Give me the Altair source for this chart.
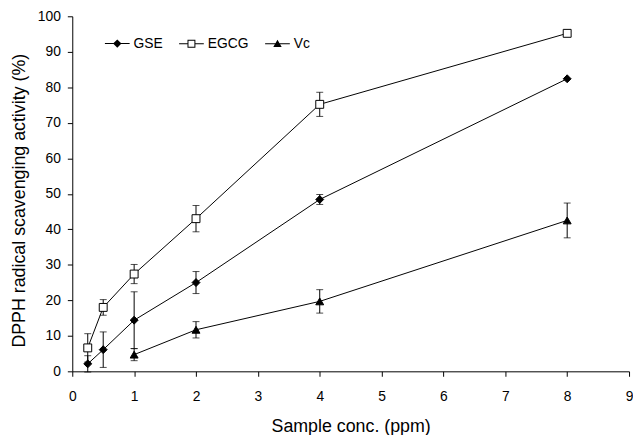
import altair as alt
import pandas as pd

series = ["GSE", "EGCG", "Vc"]

conc_gse = [0.25, 0.5, 1, 2, 4, 8]
gse = [2.1, 6.1, 14.4, 25.0, 48.4, 82.4]
gse_err = [2.3, 5.0, 8.0, 3.1, 1.4, 0.0]

conc_egcg = [0.25, 0.5, 1, 2, 4, 8]
egcg = [6.6, 18.0, 27.4, 43.0, 75.2, 95.2]
egcg_err = [4.0, 2.2, 2.7, 3.7, 3.4, 0.0]

conc_vc = [1, 2, 4, 8]
vc = [4.7, 11.7, 19.7, 42.5]
vc_err = [1.7, 2.3, 3.3, 4.9]

x_ticks = [0, 1, 2, 3, 4, 5, 6, 7, 8, 9]
y_ticks = [0, 10, 20, 30, 40, 50, 60, 70, 80, 90, 100]

point_shapes = ["diamond", "square", "triangle-up"]
point_fills = ["black", "white", "black"]
# legend keys: a short line with the series marker (fill-only paths)
legend_shapes = [
    "M-1,-0.04H1V0.04H-1ZM0,-0.34L0.34,0L0,0.34L-0.34,0Z",
    "M-1,-0.04H-0.32V0.04H-1ZM0.32,-0.04H1V0.04H0.32Z"
    "M-0.32,-0.32H0.32V0.32H-0.32ZM-0.24,-0.24V0.24H0.24V-0.24Z",
    "M-1,-0.04H1V0.04H-1ZM0,-0.32L0.34,0.26H-0.34Z",
]

rows = []
for name, xs, ys, es in [("GSE", conc_gse, gse, gse_err),
                         ("EGCG", conc_egcg, egcg, egcg_err),
                         ("Vc", conc_vc, vc, vc_err)]:
    for xv, yv, ev in zip(xs, ys, es):
        rows.append({"series": name, "conc": xv, "value": yv,
                     "lo": yv - ev, "hi": yv + ev, "err": ev})
df = pd.DataFrame(rows)
df_err = df[df["err"] > 0]

x_axis = alt.Axis(values=x_ticks, format="d", title="Sample conc. (ppm)",
                  titleY=61, titleBaseline="alphabetic", labelFlush=False,
                  labelPadding=14, tickSize=5)
y_axis = alt.Axis(values=y_ticks, format="d",
                  title="DPPH radical scavenging activity (%)",
                  titleX=-44, titleY=186, titleBaseline="bottom",
                  labelPadding=7, tickSize=5)
x_scale = alt.Scale(domain=[0, 9], nice=False)
y_scale = alt.Scale(domain=[0, 100], nice=False)


def X():
    return alt.X("conc:Q", scale=x_scale, axis=x_axis)


def Y(field):
    return alt.Y(field + ":Q", scale=y_scale, axis=y_axis)


err_rule = alt.Chart(df_err).mark_rule(color="black", strokeWidth=1).encode(
    x=X(), y=Y("lo"), y2="hi:Q")
err_lo = alt.Chart(df_err).mark_tick(color="black", thickness=1, size=7,
                                     orient="horizontal").encode(x=X(), y=Y("lo"))
err_hi = alt.Chart(df_err).mark_tick(color="black", thickness=1, size=7,
                                     orient="horizontal").encode(x=X(), y=Y("hi"))

lines = alt.Chart(df).mark_line(color="black", strokeWidth=1).encode(
    x=X(), y=Y("value"), detail="series:N", order="conc:Q")

point_layers = []
for s, shp, fc in zip(series, point_shapes, point_fills):
    point_layers.append(
        alt.Chart(df).transform_filter(alt.datum.series == s).mark_point(
            shape=shp, filled=True, fill=fc, stroke="black", strokeWidth=1,
            size=64, opacity=1).encode(x=X(), y=Y("value"))
    )

legend_layer = alt.Chart(df).transform_filter("false").mark_point(
    filled=True, color="black", opacity=1).encode(
    x=X(), y=Y("value"),
    shape=alt.Shape("series:N", scale=alt.Scale(domain=series, range=legend_shapes),
                    legend=alt.Legend(title=None, symbolSize=625,
                                      symbolFillColor="black", symbolOpacity=1)),
)

chart = alt.layer(err_rule, err_lo, err_hi, lines, *point_layers, legend_layer).properties(
    width=563, height=359,
    autosize=alt.AutoSizeParams(type="none"),
    padding={"left": 65, "top": 6, "right": 4, "bottom": 62},
).configure_view(stroke=None).configure_axis(
    grid=False,
    domainColor="black", domainWidth=1,
    tickColor="black", tickWidth=1,
    labelColor="black", labelFont="Liberation Sans", labelFontSize=14,
    titleColor="black", titleFont="Liberation Sans", titleFontSize=18,
    titleFontWeight="normal",
).configure_legend(
    orient="none", legendX=32, legendY=14, direction="horizontal",
    labelFont="Liberation Sans", labelFontSize=14, labelColor="black",
    labelOffset=3, columnPadding=13, padding=0,
)

chart.save("out.html", embed_options={"renderer": "svg", "actions": False})
